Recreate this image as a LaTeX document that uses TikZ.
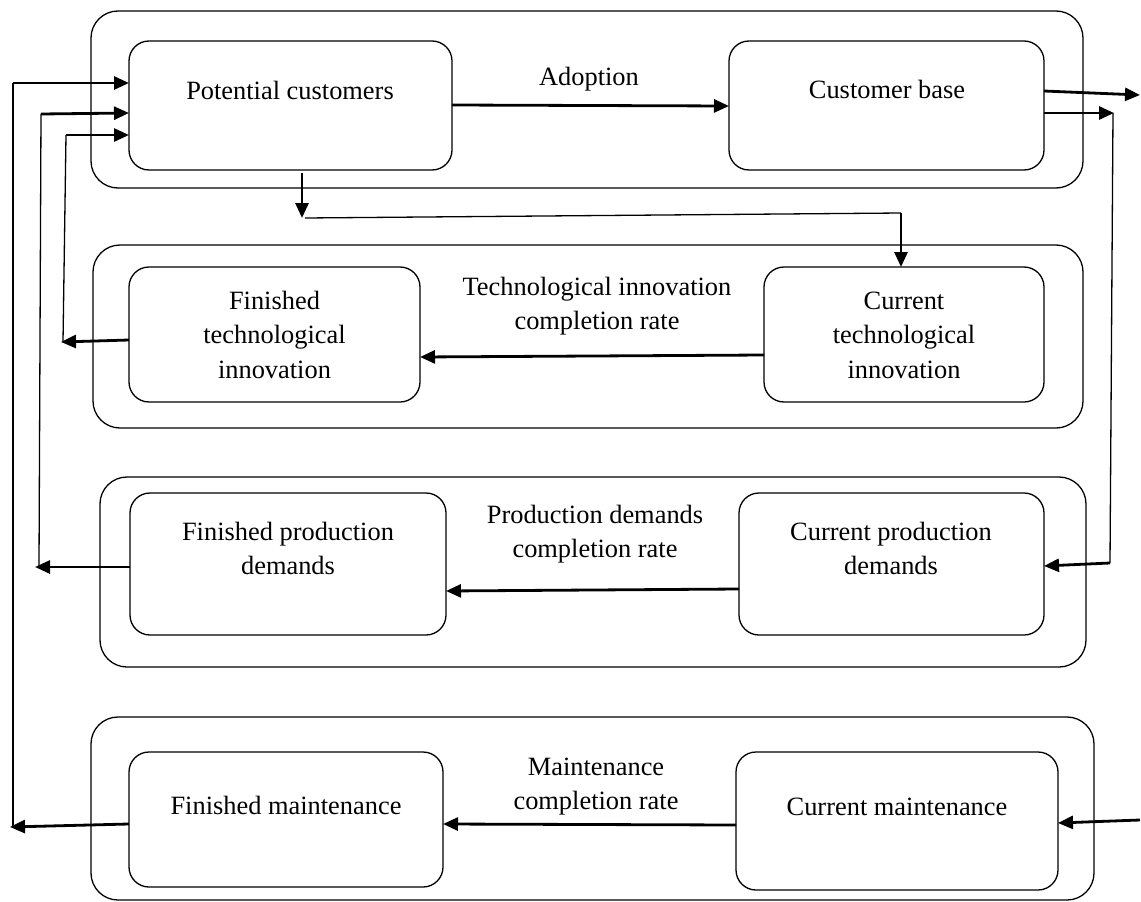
\documentclass[tikz,border=0pt]{standalone}
\usepackage{fontspec}
\setmainfont{Liberation Serif}
\usetikzlibrary{arrows.meta}
% centred multi-line text whose baseline is the first line
\newcommand\stocklines[1]{\begin{tabular}[t]{@{}c@{}}#1\end{tabular}}
\begin{document}
\begin{tikzpicture}[x=1pt,y=-1pt,
  group/.style={draw, line width=1.3pt, rounded corners=27pt, inner sep=0pt, outer sep=0pt},
  stock/.style={draw, fill=white, line width=1.3pt, rounded corners=20pt, inner sep=0pt, outer sep=0pt},
  txt/.style={font=\fontsize{26.4}{34.5}\selectfont, inner sep=0pt, anchor=base},
  flow/.style={line width=2.8pt, -{Triangle[length=15pt,width=13pt]}},
  link/.style={line width=1.3pt},
  heavy/.style={line width=2.8pt},
]
\fill[white] (0,0) rectangle (1141,902);
\useasboundingbox (0,0) rectangle (1141,902);

% sector frames
\node[group, minimum width=992pt, minimum height=177pt] (g1) at (587,99.5) {};
\node[group, minimum width=990pt, minimum height=183pt] (g2) at (588,336.5) {};
\node[group, minimum width=986pt, minimum height=190pt] (g3) at (593,572) {};
\node[group, minimum width=1003pt, minimum height=183pt] (g4) at (592.5,808.5) {};

% stocks
\node[stock, minimum width=323pt, minimum height=129pt] (pc)  at (290.5,105.5) {};
\node[stock, minimum width=315pt, minimum height=129pt] (cb)  at (886.5,105.5) {};
\node[stock, minimum width=291pt, minimum height=135pt] (fti) at (274.5,334.5) {};
\node[stock, minimum width=280pt, minimum height=135pt] (cti) at (904,334.5) {};
\node[stock, minimum width=316pt, minimum height=142pt] (fpd) at (288,564) {};
\node[stock, minimum width=305pt, minimum height=142pt] (cpd) at (891.5,564) {};
\node[stock, minimum width=314pt, minimum height=135pt] (fm)  at (286,819.5) {};
\node[stock, minimum width=322pt, minimum height=138pt] (cm)  at (897,821) {};

% stock names
\node[txt] (pct)  at (290,99)    {Potential customers};
\node[txt] (cbt)  at (887,98)    {Customer base};
\node[txt] (ftit) at (274.5,309) {\stocklines{Finished\\technological\\innovation}};
\node[txt] (ctit) at (904,309)   {\stocklines{Current\\technological\\innovation}};
\node[txt] (fpdt) at (288,540)   {\stocklines{Finished production\\demands}};
\node[txt] (cpdt) at (891,540)   {\stocklines{Current production\\demands}};
\node[txt] (fmt)  at (286,814)   {Finished maintenance};
\node[txt] (cmt)  at (897,815)   {Current maintenance};

% rate labels
\node[txt] (adl) at (589,85)  {Adoption};
\node[txt] (tir) at (597,295) {\stocklines{Technological innovation\\completion rate}};
\node[txt] (pdr) at (595,523) {\stocklines{Production demands\\completion rate}};
\node[txt] (mr)  at (596,775) {\stocklines{Maintenance\\completion rate}};

% adoption flow
\draw[flow] (pc.east |- 0,105) -- (cb.west |- 0,106);

% outflows of the customer base
\coordinate (cbout) at (1140,95);
\draw[flow] (cb.east |- 0,91) -- (cbout);
\coordinate (rtop) at (1114,113);
\coordinate (rv1) at (1113,113);
\coordinate (rbot) at (1110,563);
\draw[flow] (cb.east |- 0,113) -- (rtop);
\draw[link] (rv1) -- (rbot);
\draw[flow] (rbot) -- (cpd.east |- 0,566);

% potential customers drive technological innovation
\coordinate (pcd) at (302,218);
\coordinate (jl) at (305,218);
\coordinate (jr) at (901,213);
\draw[flow] (pc.south -| pcd) ++(0,3) -- (pcd);
\draw[link] (jl) -- (jr);
\draw[flow] (jr) -- (cti.north -| jr);

% completion flows
\draw[flow] (cti.west |- 0,355) -- (fti.east |- 0,357);
\draw[flow] (cpd.west |- 0,589) -- (fpd.east |- 0,591);
\draw[flow] (cm.west |- 0,825) -- (fm.east |- 0,824);

% external inflow to maintenance
\coordinate (cmin) at (1140,820);
\draw[flow] (cmin) -- (cm.east |- 0,823);

% feedback: finished technological innovation
\coordinate (t1) at (61,342);
\coordinate (t2) at (63,342);
\coordinate (t3) at (66,135);
\draw[flow] (fti.west |- 0,340) -- (t1);
\draw[link] (t2) -- (t3);
\draw[flow] (t3) -- (pc.west |- t3);

% feedback: finished production demands
\coordinate (p1) at (35,567);
\coordinate (p2) at (39,567);
\coordinate (p3) at (41,114);
\draw[flow] (fpd.west |- 0,567) -- (p1);
\draw[link] (p2) -- (p3);
\draw[flow] (p3) -- (pc.west |- 0,113);

% feedback: finished maintenance
\coordinate (m1) at (10,827);
\coordinate (m2) at (13,827);
\coordinate (m3) at (13,83);
\draw[flow] (fm.west |- 0,824) -- (m1);
\draw[heavy] (m2) -- (m3);
\draw[flow] (m3) -- (pc.west |- m3);
\end{tikzpicture}
\end{document}
